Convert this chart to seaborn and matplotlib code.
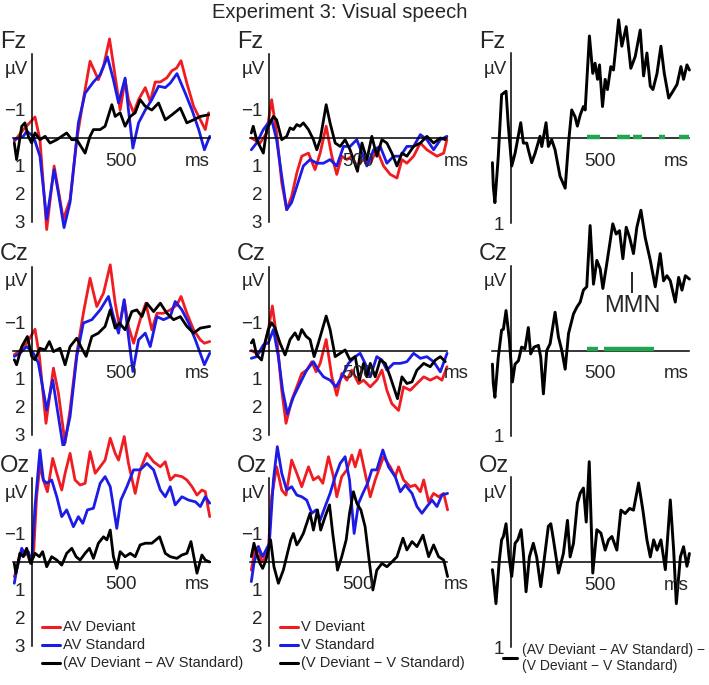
import matplotlib
matplotlib.use("Agg")
import matplotlib.pyplot as plt
from matplotlib.lines import Line2D
import seaborn as sns

# -------------------------------------------------
# Data: time (ms) and amplitude (µV)
# -------------------------------------------------

# Fz, AV condition
fz_av_dev_t = [-100, -49, 17, 45, 83, 125, 177, 215, 253, 290, 328, 375, 404, 438, 470, 498, 526, 545, 574, 602, 640, 668, 696, 725, 762, 790, 817, 842, 875, 913, 951, 979, 998]
fz_av_dev_v = [0.12, -0.3, -0.75, 0.06, 3.27, 1.0, 2.9, 2.2, 0.06, -1.37, -2.74, -2.08, -2.56, -3.54, -2.2, -1.0, -2.08, -1.37, -0.9, -1.37, -1.8, -1.3, -2.0, -2.0, -2.15, -2.4, -2.5, -2.76, -1.96, -1.13, -0.65, -0.3, -0.9]
fz_av_std_t = [-100, -49, -30, 8, 45, 83, 125, 149, 181, 215, 262, 300, 347, 385, 426, 460, 489, 526, 545, 570, 602, 640, 677, 715, 753, 781, 819, 866, 904, 942, 974, 1004]
fz_av_std_v = [0.06, -0.06, -0.24, -0.06, 0.65, 2.9, 1.13, 1.96, 3.2, 2.3, -0.54, -1.6, -2.0, -2.26, -2.9, -2.08, -1.25, -2.14, -1.0, 0.36, -0.54, -1.0, -1.37, -1.85, -1.8, -1.96, -2.3, -1.6, -1.0, -0.3, 0.42, -0.06]
fz_av_dif_t = [-100, -87, -58, -40, -21, -2, 17, 45, 74, 102, 140, 168, 196, 225, 253, 300, 328, 347, 385, 413, 451, 470, 498, 526, 555, 583, 611, 640, 677, 715, 753, 791, 838, 875, 913, 951, 998]
fz_av_dif_v = [0.18, 0.77, -0.42, -0.54, -0.06, 0.18, -0.18, 0.06, -0.06, 0.18, 0.06, -0.06, -0.18, 0.06, 0.06, 0.54, -0.06, -0.3, -0.3, -0.42, -1.19, -0.77, -0.9, -0.42, -0.77, -0.9, -1.37, -1.13, -1.0, -1.25, -0.65, -0.83, -1.07, -0.54, -0.65, -0.77, -0.83]

# Fz, V condition
fz_v_dev_t = [-100, -51, -13, 15, 43, 72, 100, 128, 157, 185, 223, 260, 289, 323, 355, 383, 411, 440, 468, 496, 534, 572, 609, 647, 685, 723, 751, 779, 817, 855, 892, 949, 987, 1005]
fz_v_dev_v = [0, 0.18, -0.18, -1.37, -0.18, 1.6, 2.56, 2.08, 1.25, 0.65, 0.54, 1.13, 0.54, -0.42, 0.65, 1.3, 0.65, 0.77, 0.65, 1.0, 0.77, 0.9, 0.42, 1.0, 1.3, 1.43, 0.77, 0.9, 0.65, 0.18, 0.42, 0.65, 0.54, 0.06]
fz_v_std_t = [-100, -70, -32, -4, 15, 43, 72, 100, 128, 157, 194, 232, 270, 308, 345, 383, 421, 458, 496, 525, 553, 591, 628, 666, 704, 742, 779, 817, 855, 892, 930, 968, 1005]
fz_v_std_v = [0.42, 0.18, -0.3, -0.54, -0.65, 0.06, 1.37, 2.56, 2.3, 1.73, 1.0, 0.77, 0.9, 0.9, 0.77, 1.0, 0.3, 0.3, 0.06, 0.54, 1.0, 0.42, 0.3, 0.9, 0.65, 0.65, 0.3, 0.3, -0.12, 0.06, 0.42, 0.06, -0.06]
fz_v_dif_t = [-100, -89, -70, -32, -13, 6, 25, 43, 72, 100, 119, 138, 157, 175, 194, 223, 251, 270, 289, 323, 345, 374, 402, 430, 458, 500, 525, 553, 581, 609, 638, 666, 694, 723, 751, 779, 817, 855, 892, 930, 968, 996]
fz_v_dif_v = [-0.18, -0.42, 0.06, 0.54, -0.3, -0.54, -0.77, -0.65, 0.06, -0.06, -0.36, -0.3, -0.48, -0.42, -0.54, -0.3, 0.06, 0.42, 0.06, -1.19, -0.54, 0.18, 0.3, 0.06, 0.42, 1.19, 0.18, 0.77, -0.06, 0.65, 0.06, 0.18, 0.54, 1.0, 0.54, 0.65, 0.3, 0.18, -0.06, 0.18, 0, 0.06]

# Fz, (AV dev - AV std) - (V dev - V std)
fz_mmn_t = [-105, -100, -91, -72, -53, -28, -15, 4, 23, 55, 70, 89, 98, 117, 136, 164, 174, 198, 211, 230, 249, 277, 306, 325, 343, 362, 375, 391, 409, 419, 443, 462, 475, 489, 500, 517, 532, 545, 564, 579, 608, 626, 651, 677, 702, 730, 749, 768, 787, 802, 825, 847, 866, 891, 909, 938, 960, 975, 994, 1008]
fz_mmn_v = [0.29, 0.57, 0.76, 0.22, -0.51, -0.55, -0.14, 0.33, 0.18, -0.18, 0.06, 0.06, 0.14, 0.29, 0.18, -0.02, 0.1, -0.18, 0.1, 0.02, 0.14, 0.45, 0.59, 0.06, -0.33, -0.25, -0.14, -0.27, -0.37, -0.33, -1.2, -0.76, -0.88, -0.69, -0.86, -0.37, -0.69, -0.57, -0.84, -0.8, -1.39, -1.08, -1.31, -0.82, -0.96, -1.27, -0.73, -1.0, -0.61, -0.57, -0.76, -1.08, -0.76, -0.47, -0.53, -0.63, -0.84, -0.69, -0.86, -0.8]
fz_sig_start = [432, 598, 692, 834, 947]
fz_sig_end = [500, 670, 740, 868, 1008]

# Cz, AV condition
cz_av_dev_t = [-100, -68, -30, 17, 42, 79, 121, 149, 187, 215, 253, 290, 328, 366, 404, 442, 470, 494, 521, 545, 574, 611, 643, 677, 706, 743, 781, 819, 842, 875, 913, 951, 974, 1004]
cz_av_dev_v = [0.15, 0, -0.26, -0.76, 0.21, 2.6, 0.63, 1.52, 3.3, 2.12, 0.1, -1.33, -2.58, -1.57, -2.05, -3.06, -1.69, -0.86, -1.81, -0.86, -0.26, -1.1, -1.69, -0.74, -1.33, -1.33, -1.45, -1.63, -1.93, -1.33, -0.74, -0.38, -0.26, -0.32]
cz_av_std_t = [-100, -68, -30, 8, 36, 83, 117, 177, 215, 253, 290, 338, 385, 432, 460, 489, 521, 545, 570, 602, 640, 668, 706, 743, 781, 809, 847, 885, 923, 974, 1004]
cz_av_std_v = [0.21, 0.1, -0.14, 0.1, 0.45, 2.12, 1.05, 3.49, 2.36, 0.21, -0.98, -1.1, -1.45, -1.93, -1.21, -0.62, -1.81, -0.5, 0.75, -0.38, -0.62, -0.14, -1.21, -1.1, -1.21, -1.75, -1.45, -0.98, -0.38, 0.51, 0.1]
cz_av_dif_t = [-100, -87, -58, -26, -2, 17, 45, 74, 98, 121, 158, 187, 215, 253, 281, 306, 338, 375, 413, 442, 470, 494, 526, 564, 592, 621, 649, 687, 725, 762, 800, 838, 875, 913, 951, 1004]
cz_av_dif_v = [0.33, 0.51, -0.14, -0.5, 0.21, 0.33, -0.08, -0.02, -0.32, 0.04, -0.08, 0.51, -0.14, -0.44, -0.08, 0.21, -0.5, -0.62, -0.86, -1.45, -0.8, -0.98, -0.74, -1.39, -1.45, -1.21, -1.69, -1.39, -1.69, -1.33, -1.1, -1.21, -0.86, -0.62, -0.8, -0.86]

# Cz, V condition
cz_v_dev_t = [-100, -70, -32, -4, 19, 43, 72, 96, 128, 157, 185, 213, 242, 266, 289, 323, 355, 383, 411, 440, 468, 506, 534, 572, 609, 638, 666, 694, 732, 760, 798, 836, 874, 911, 949, 977, 1006]
cz_v_dev_v = [0, 0.1, 0, -0.75, -1.59, -0.5, 1.42, 2.6, 1.78, 1.3, 0.82, 0.7, 0.4, 0.76, 0.46, -0.39, 0.94, 1.6, 0.82, 1.06, 0.7, 1.18, 1.06, 1.3, 1.06, 0.7, 1.42, 1.9, 2.14, 1.3, 1.42, 1.18, 0.94, 1.06, 0.94, 1.06, 0.58]
cz_v_std_t = [-100, -70, -32, -4, 25, 53, 77, 104, 138, 175, 213, 251, 279, 308, 345, 379, 411, 449, 487, 515, 543, 572, 609, 638, 666, 704, 742, 779, 817, 855, 892, 930, 968, 1006]
cz_v_std_v = [0.28, 0.22, -0.2, -0.27, -0.75, 0.22, 1.42, 2.27, 1.66, 1.18, 0.7, 0.4, 0.7, 0.94, 1.06, 1.3, 0.94, 0.46, 0.22, 0.1, 0.46, 0.94, 0.22, 0.34, 0.7, 0.46, 0.46, 0.4, 0.1, 0.28, 0.22, 0.4, 0.76, 0.1]
cz_v_dif_t = [-100, -89, -70, -42, -23, -4, 15, 34, 62, 91, 119, 147, 166, 185, 209, 232, 255, 279, 323, 345, 374, 402, 430, 458, 487, 511, 534, 553, 572, 600, 628, 657, 685, 726, 751, 779, 808, 836, 874, 911, 940, 968, 996]
cz_v_dif_v = [-0.27, -0.39, 0.16, 0.34, -0.27, -0.75, -0.99, -0.81, -0.27, 0.16, -0.39, -0.63, -0.39, -0.75, -0.51, -0.39, 0.22, -0.27, -1.23, -0.75, 0.22, 0.1, -0.02, 0.34, 0.22, 1.06, 0.46, 0.94, 0.46, 0.94, 0.34, 0.46, 0.94, 1.72, 0.94, 1.18, 1.12, 0.7, 0.46, 0.58, 0.34, 0.22, 0.4]

# Cz, interaction
cz_mmn_t = [-105, -100, -91, -72, -53, -43, -28, -9, 8, 23, 42, 60, 79, 98, 111, 130, 155, 168, 183, 202, 221, 249, 268, 287, 306, 325, 353, 372, 391, 409, 428, 447, 466, 485, 504, 519, 538, 557, 575, 594, 613, 632, 651, 670, 692, 711, 734, 758, 787, 815, 843, 862, 881, 900, 928, 947, 966, 985, 1008]
cz_mmn_v = [0.16, 0.39, 0.55, 0.08, -0.24, -0.25, -0.47, -0.12, 0.37, 0.16, 0.12, -0.04, -0.02, -0.27, 0.04, -0.04, -0.06, 0.08, 0.51, 0, -0.08, -0.45, -0.16, 0, 0.22, -0.2, -0.43, -0.51, -0.57, -0.71, -0.75, -1.47, -0.78, -1.06, -0.96, -0.73, -0.98, -1.24, -1.49, -1.37, -1.41, -1.08, -1.45, -1.33, -1.14, -1.45, -1.65, -1.33, -1.06, -0.75, -1.14, -0.82, -0.88, -0.82, -0.57, -0.86, -0.71, -0.88, -0.84]
cz_sig_start = [428, 523]
cz_sig_end = [494, 806]
mmn_time = 684

# Oz, AV condition
oz_av_dev_t = [-100, -87, -68, -49, -34, -11, 8, 26, 45, 64, 87, 117, 140, 168, 187, 215, 243, 272, 300, 328, 357, 385, 413, 442, 470, 489, 521, 545, 583, 611, 649, 687, 725, 753, 781, 809, 847, 875, 904, 932, 960, 979, 1004]
oz_av_dev_v = [0.52, 0.29, -0.31, -0.25, -0.43, 0, -0.19, -2.33, -3.46, -2.93, -2.51, -3.7, -3.17, -2.57, -3.17, -3.88, -2.93, -2.75, -2.81, -3.94, -3.17, -3.4, -3.64, -4.42, -3.88, -3.64, -4.48, -3.52, -2.45, -3.29, -3.88, -3.58, -3.4, -3.58, -2.93, -3.1, -3.05, -2.93, -2.69, -2.39, -2.57, -2.51, -1.62]
oz_av_std_t = [-100, -87, -58, -40, -21, -2, 17, 45, 64, 83, 111, 140, 168, 196, 234, 262, 287, 313, 347, 385, 413, 442, 479, 502, 536, 574, 611, 649, 687, 725, 753, 781, 809, 847, 885, 923, 951, 979, 1004]
oz_av_std_v = [0.76, 0.29, -0.49, -0.25, -0.37, 0.05, -1.98, -4.0, -2.93, -2.81, -2.93, -2.33, -1.62, -1.86, -1.26, -1.62, -1.38, -1.86, -1.92, -2.81, -3.05, -2.69, -1.2, -2.21, -2.69, -3.29, -3.29, -3.52, -3.29, -2.57, -2.33, -2.69, -2.04, -2.33, -2.21, -2.15, -1.98, -2.33, -2.1]
oz_av_dif_t = [-100, -91, -68, -49, -30, -8, 17, 42, 60, 83, 111, 140, 168, 196, 225, 249, 272, 300, 325, 347, 375, 404, 423, 442, 460, 479, 498, 526, 555, 583, 611, 640, 677, 721, 753, 781, 819, 847, 875, 898, 932, 960, 979, 1004]
oz_av_dif_v = [0.05, 0.4, -0.31, -0.19, -0.49, 0.05, -0.31, -0.19, -0.37, 0.17, -0.19, -0.07, 0.11, -0.31, -0.49, -0.19, -0.07, -0.31, -0.49, -0.13, -0.67, -0.9, -0.79, -1.14, -0.19, 0.23, -0.37, -0.19, -0.31, -0.19, -0.61, -0.67, -0.67, -0.9, -0.31, -0.19, -0.13, -0.25, -0.31, -0.73, 0.4, -0.25, -0.07, 0]

# Oz, V condition
oz_v_dev_t = [-100, -79, -60, -42, -23, -4, 15, 43, 72, 96, 128, 157, 185, 223, 251, 279, 304, 336, 364, 383, 411, 440, 468, 487, 515, 543, 572, 600, 647, 685, 713, 732, 760, 798, 826, 855, 874, 902, 930, 958, 987, 1009]
oz_v_dev_v = [0.29, -0.43, -0.55, 0, -0.13, -0.43, -2.33, -3.4, -2.57, -2.39, -3.64, -3.17, -2.69, -3.4, -2.93, -3.05, -2.81, -3.76, -3.05, -2.33, -3.05, -3.29, -3.82, -3.4, -4.0, -3.17, -2.33, -2.93, -3.76, -3.4, -3.05, -3.4, -2.93, -2.69, -2.75, -2.51, -2.93, -2.15, -2.45, -2.33, -2.45, -1.86]
oz_v_std_t = [-100, -85, -60, -36, -17, 2, 25, 47, 72, 100, 128, 157, 185, 213, 242, 266, 289, 317, 345, 374, 402, 430, 455, 481, 506, 530, 557, 581, 609, 643, 675, 713, 742, 770, 808, 836, 864, 892, 921, 949, 977, 1009]
oz_v_std_v = [0.7, 0.05, -0.55, -0.19, -0.43, -0.67, -2.93, -4.12, -3.17, -2.57, -2.69, -2.39, -2.33, -2.21, -1.74, -1.86, -1.5, -1.98, -2.45, -3.05, -3.52, -3.76, -2.93, -1.02, -2.1, -2.45, -2.81, -3.29, -3.29, -4.0, -3.4, -3.05, -2.51, -2.75, -2.45, -1.98, -1.74, -1.98, -2.21, -1.98, -2.39, -2.45]
oz_v_dif_t = [-100, -85, -70, -51, -36, -17, 9, 28, 53, 81, 104, 123, 138, 157, 175, 194, 213, 232, 251, 274, 292, 317, 342, 360, 387, 411, 436, 455, 477, 496, 519, 543, 568, 587, 609, 638, 666, 694, 723, 757, 779, 808, 836, 870, 902, 930, 958, 987, 1009]
oz_v_dif_v = [-0.19, -0.67, -0.31, 0.05, 0.23, -0.07, -0.79, 0.17, 0.76, 0.29, -0.31, -0.79, -1.02, -0.61, -0.79, -1.02, -1.38, -1.74, -1.14, -1.86, -1.14, -1.62, -2.04, -1.02, 0.29, -0.19, -0.79, -1.74, -2.51, -2.1, -1.86, -1.26, 0.05, 1.0, 0.29, 0.05, 0.17, 0, -0.19, -0.85, -0.43, -0.73, -0.55, -0.96, -0.19, -0.61, -0.19, -0.07, 0.52]

# Oz, interaction
oz_mmn_t = [-105, -100, -85, -66, -53, -43, -28, -11, 4, 23, 38, 57, 70, 85, 104, 126, 145, 168, 187, 211, 225, 240, 268, 296, 319, 334, 353, 375, 391, 409, 425, 442, 462, 485, 508, 532, 551, 570, 598, 621, 645, 670, 692, 721, 745, 768, 787, 806, 825, 847, 872, 900, 919, 934, 957, 975, 994, 1008]
oz_mmn_v = [0.09, 0.17, 0.49, -0.02, -0.26, -0.3, -0.45, -0.06, 0.17, -0.22, -0.26, -0.38, -0.1, 0.35, -0.06, -0.22, -0.06, 0.29, -0.02, -0.42, -0.45, -0.26, 0.13, -0.1, -0.49, -0.06, -0.22, -0.69, -0.81, -0.87, -0.47, -1.18, 0.13, -0.38, -0.34, -0.14, -0.26, -0.3, -0.14, -0.61, -0.57, -0.63, -0.61, -0.93, -0.61, -0.26, -0.06, -0.26, -0.14, -0.26, 0.09, -0.73, -0.14, 0.49, -0.06, -0.18, 0.05, -0.1]

electrodes = ["Fz", "Cz", "Oz"]
av_labels = ["AV Deviant", "AV Standard", "(AV Deviant \u2212 AV Standard)"]
v_labels = ["V Deviant", "V Standard", "(V Deviant \u2212 V Standard)"]
mmn_label = "(AV Deviant \u2212 AV Standard) \u2212\n(V Deviant \u2212 V Standard)"

# -------------------------------------------------
# Style
# -------------------------------------------------
sns.set_style("white")
plt.rcParams["font.family"] = ["Liberation Sans", "DejaVu Sans"]

RED, BLUE, BLACK, GREEN = "#f01c22", "#1c1ce6", "black", "#1fa64e"

W, H = 709, 685
fig = plt.figure(figsize=(W / 100, H / 100), dpi=100)

MS = 0.177                 # pixels per ms
col_zero = [32, 269, 511]  # pixel x of t = 0
row_base = [138, 350.5, 562]


def px(x, y):
    return x / W, 1 - y / H


def make_axes(col, row):
    zx, by = col_zero[col], row_base[row]
    if col < 2:
        uv, ytop, ybot = 28, -4.7, 3.4
    else:
        uv, ytop, ybot = 85, -1.75, 1.15
    x0, x1 = -130, 1030
    left = zx + x0 * MS
    top = by + ytop * uv
    ax = fig.add_axes([left / W, 1 - (top + (ybot - ytop) * uv) / H,
                       (x1 - x0) * MS / W, (ybot - ytop) * uv / H])
    ax.patch.set_visible(False)
    ax.set_xlim(x0, x1)
    ax.set_ylim(ybot, ytop)
    for s in ["top", "right"]:
        ax.spines[s].set_visible(False)
    ax.spines["bottom"].set_position(("data", 0))
    ax.spines["bottom"].set_bounds(-105, 1005)
    ax.spines["left"].set_position(("data", 0))
    for s in ["bottom", "left"]:
        ax.spines[s].set_linewidth(1.1)
        ax.spines[s].set_color("black")
    ax.set_xticks(range(-100, 1001, 100))
    ax.set_xticklabels([])
    ax.tick_params(axis="x", direction="out", length=3, width=1, colors="black")
    if col < 2:
        ax.spines["left"].set_bounds(-3, 3)
        ax.set_yticks([-3, -2, -1, 1, 2, 3])
        ax.set_yticklabels(["", "", "\u22121", "1", "2", "3"])
    else:
        ax.spines["left"].set_bounds(-1, 1)
        ax.set_yticks([-1, 1])
        ax.set_yticklabels(["", "1"])
    ax.tick_params(axis="y", direction="out", length=4, width=1, labelsize=13.5, pad=1)
    lab_off = 23 / uv
    ax.text(500, lab_off, "500", ha="center", va="center", fontsize=13.5)
    if col == 1:
        ax.text(985, lab_off, "ms", ha="left", va="center", fontsize=13.5)
    else:
        ax.text(1005, lab_off, "ms", ha="right", va="center", fontsize=13.5)
    fig.text(*px(zx - 32, by - 96), electrodes[row], ha="left", va="center", fontsize=17)
    fig.text(*px(zx - 4, by - 69), "\u00b5V", ha="right", va="center", fontsize=13.5)
    ax.set_xlabel("")
    ax.set_ylabel("")
    return ax


def trace(ax, t, v, color, lw=2.0):
    sns.lineplot(x=t, y=v, ax=ax, color=color, lw=lw, sort=False,
                 estimator=None, legend=False, solid_joinstyle="round",
                 solid_capstyle="round")


panels = [
    [(fz_av_dev_t, fz_av_dev_v, fz_av_std_t, fz_av_std_v, fz_av_dif_t, fz_av_dif_v),
     (fz_v_dev_t, fz_v_dev_v, fz_v_std_t, fz_v_std_v, fz_v_dif_t, fz_v_dif_v),
     (fz_mmn_t, fz_mmn_v, fz_sig_start, fz_sig_end)],
    [(cz_av_dev_t, cz_av_dev_v, cz_av_std_t, cz_av_std_v, cz_av_dif_t, cz_av_dif_v),
     (cz_v_dev_t, cz_v_dev_v, cz_v_std_t, cz_v_std_v, cz_v_dif_t, cz_v_dif_v),
     (cz_mmn_t, cz_mmn_v, cz_sig_start, cz_sig_end)],
    [(oz_av_dev_t, oz_av_dev_v, oz_av_std_t, oz_av_std_v, oz_av_dif_t, oz_av_dif_v),
     (oz_v_dev_t, oz_v_dev_v, oz_v_std_t, oz_v_std_v, oz_v_dif_t, oz_v_dif_v),
     (oz_mmn_t, oz_mmn_v, [], [])],
]

for row in range(3):
    for col in range(3):
        ax = make_axes(col, row)
        p = panels[row][col]
        if col < 2:
            trace(ax, p[0], p[1], RED)
            trace(ax, p[2], p[3], BLUE)
            trace(ax, p[4], p[5], BLACK)
        else:
            ax.hlines([-0.016] * len(p[2]), p[2], p[3], color=GREEN, lw=3.2, zorder=3)
            trace(ax, p[0], p[1], BLACK, lw=2.1)
            if row == 1:
                ax.vlines(mmn_time, -0.92, -0.68, color="black", lw=1.2)
                ax.text(mmn_time, -0.52, "MMN", ha="center", va="center", fontsize=17)

# Legends
for x0, labels in [(42, av_labels), (280, v_labels)]:
    for y, lab, c in zip([627, 645, 663], labels, [RED, BLUE, BLACK]):
        fig.add_artist(Line2D([x0 / W, (x0 + 18) / W], [1 - y / H] * 2, color=c, lw=2.2))
        fig.text(*px(x0 + 21, y), lab, ha="left", va="center", fontsize=10.5)
fig.add_artist(Line2D([503 / W, 517 / W], [1 - 658 / H] * 2, color="black", lw=2.2))
fig.text(*px(522, 658), mmn_label, ha="left", va="center", fontsize=10, linespacing=1.15)

fig.text(*px(340, 12), "Experiment 3: Visual speech", ha="center", va="center", fontsize=14.5)

fig.savefig("out.png", dpi=100)
